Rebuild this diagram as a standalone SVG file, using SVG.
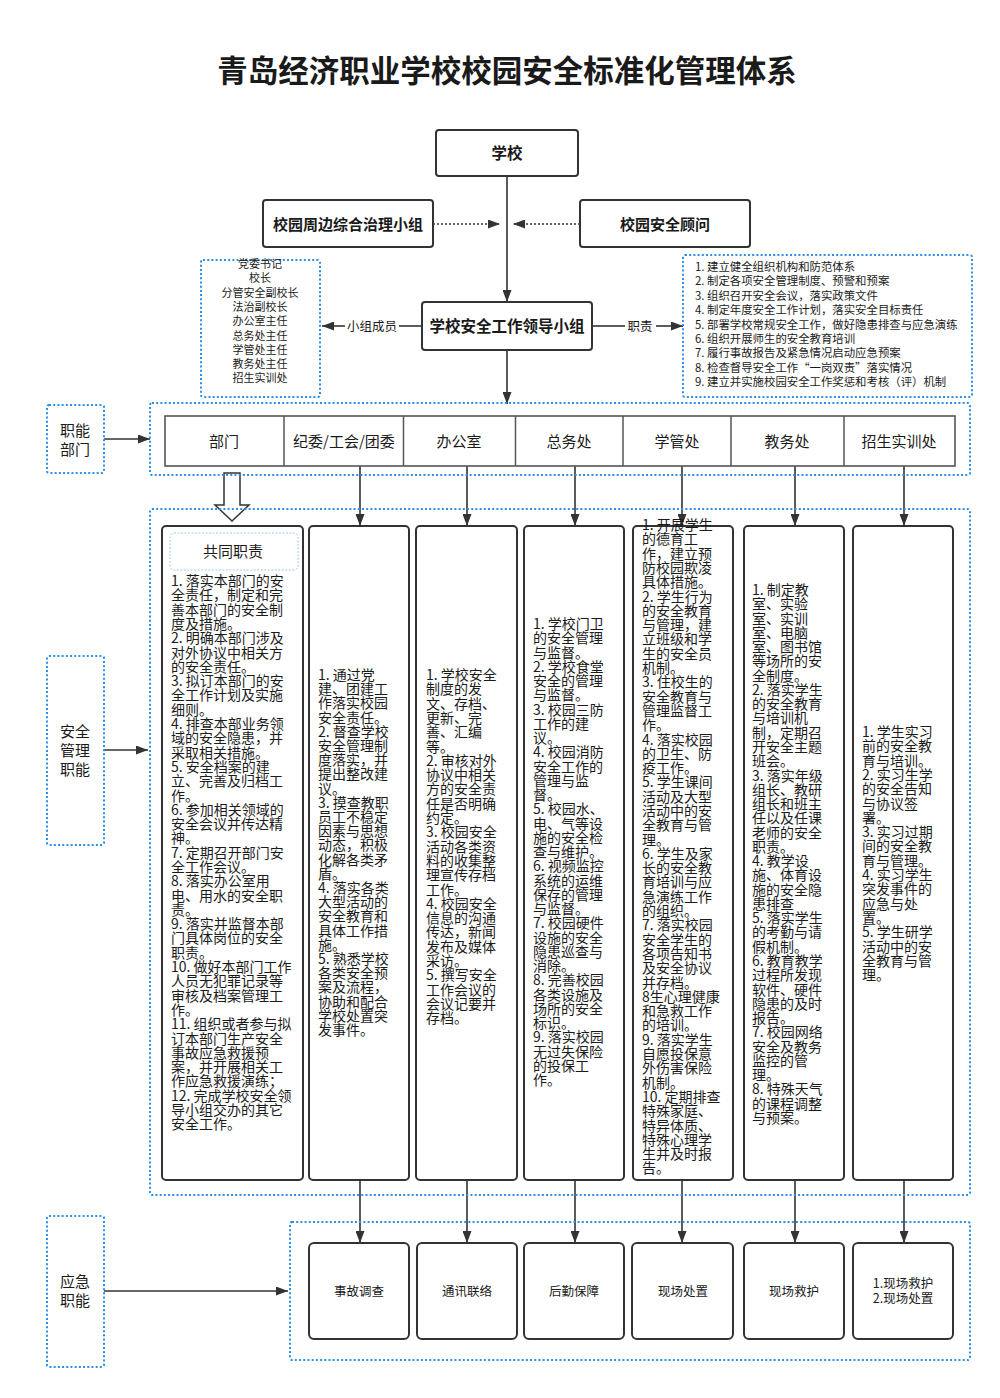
<svg xmlns="http://www.w3.org/2000/svg" width="1000" height="1398" viewBox="0 0 1000 1398">
<defs>
<style>
text{font-family:"Noto Sans CJK SC","Liberation Sans",sans-serif;fill:#1a1a1a}
.title{font-size:30.5px;font-weight:bold;text-anchor:middle}
.bold{font-size:15.5px;font-weight:bold;text-anchor:middle}
.box{fill:#fff;stroke:#333;stroke-width:2}
.dot{fill:none;stroke:#2f8fe6;stroke-width:2;stroke-dasharray:2 2.2}
.cell{font-size:15px;text-anchor:middle}
.small{font-size:11px}
.duty{font-size:11.4px}
.col{font-size:14px}
.lbl{font-size:15px;text-anchor:middle}
.em{font-size:12.5px;text-anchor:middle}
.link{fill:none;stroke:#333;stroke-width:1.6}
.dlink{fill:none;stroke:#333;stroke-width:1.6;stroke-dasharray:2 2}
</style>
<marker id="ah" viewBox="0 0 12 9" refX="12" refY="4.5" markerWidth="12" markerHeight="9" markerUnits="userSpaceOnUse" orient="auto">
<path d="M0,0 L12,4.5 L0,9 z" fill="#333"/>
</marker>
</defs>
<rect width="1000" height="1398" fill="#fff"/>

<text class="title" x="507" y="82">青岛经济职业学校校园安全标准化管理体系</text>

<g id="connectors">
<path class="link" d="M507,176 V302" marker-end="url(#ah)"/>
<path class="dlink" d="M433,224 H500" marker-end="url(#ah)"/>
<path class="dlink" d="M580,224 H513" marker-end="url(#ah)"/>
<path class="link" d="M507,350 V404" marker-end="url(#ah)"/>
<path class="link" d="M421,326 H399"/>
<path class="link" d="M345,326 H322" marker-end="url(#ah)"/>
<text x="372" y="331" style="font-size:12.5px;text-anchor:middle">小组成员</text>
<path class="link" d="M593,326 H625"/>
<path class="link" d="M656,326 H683" marker-end="url(#ah)"/>
<text x="640" y="331" style="font-size:12.5px;text-anchor:middle">职责</text>
<path class="link" d="M104,439 H150" marker-end="url(#ah)"/>
<path class="link" d="M104,750 H148" marker-end="url(#ah)"/>
<path class="link" d="M104,1291 H288" marker-end="url(#ah)"/>
<path class="link" d="M360,466 V526" marker-end="url(#ah)"/>
<path class="link" d="M467,466 V526" marker-end="url(#ah)"/>
<path class="link" d="M575,466 V526" marker-end="url(#ah)"/>
<path class="link" d="M682,466 V526" marker-end="url(#ah)"/>
<path class="link" d="M795,466 V526" marker-end="url(#ah)"/>
<path class="link" d="M904,466 V526" marker-end="url(#ah)"/>
<path class="link" d="M360,1180 V1243" marker-end="url(#ah)"/>
<path class="link" d="M467,1180 V1243" marker-end="url(#ah)"/>
<path class="link" d="M575,1180 V1243" marker-end="url(#ah)"/>
<path class="link" d="M682,1180 V1243" marker-end="url(#ah)"/>
<path class="link" d="M795,1180 V1243" marker-end="url(#ah)"/>
<path class="link" d="M904,1180 V1243" marker-end="url(#ah)"/>
<polygon points="224,473 240,473 240,505 249,505 232,521 215,505 224,505" fill="#fff" stroke="#333" stroke-width="1.5"/>
</g>

<g id="school">
<rect class="box" x="436" y="130" width="142" height="46" rx="3"/>
<text class="bold" x="507" y="159">学校</text>
</g>
<g id="zhouBian">
<rect class="box" x="263" y="200" width="170" height="47" rx="3"/>
<text class="bold" x="348" y="230" style="font-size:15px">校园周边综合治理小组</text>
</g>
<g id="guWen">
<rect class="box" x="580" y="200" width="170" height="47" rx="3"/>
<text class="bold" x="665" y="230" style="font-size:15px">校园安全顾问</text>
</g>
<g id="leader">
<rect class="box" x="422" y="302" width="170" height="48" rx="3"/>
<text class="bold" x="507" y="332">学校安全工作领导小组</text>
</g>

<g id="members">
<rect class="dot" x="201" y="260" width="119" height="137" rx="2"/>
<text class="small" text-anchor="middle" x="260" y="268">党委书记<tspan x="260" dy="14.3">校长</tspan><tspan x="260" dy="14.3">分管安全副校长</tspan><tspan x="260" dy="14.3">法治副校长</tspan><tspan x="260" dy="14.3">办公室主任</tspan><tspan x="260" dy="14.3">总务处主任</tspan><tspan x="260" dy="14.3">学管处主任</tspan><tspan x="260" dy="14.3">教务处主任</tspan><tspan x="260" dy="14.3">招生实训处</tspan></text>
</g>

<g id="duties">
<rect class="dot" x="683" y="255" width="289" height="142" rx="2"/>
<text class="duty" x="695" y="271">1. 建立健全组织机构和防范体系<tspan x="695" dy="14.4">2. 制定各项安全管理制度、预警和预案</tspan><tspan x="695" dy="14.4">3. 组织召开安全会议，落实政策文件</tspan><tspan x="695" dy="14.4">4. 制定年度安全工作计划，落实安全目标责任</tspan><tspan x="695" dy="14.4">5. 部署学校常规安全工作，做好隐患排查与应急演练</tspan><tspan x="695" dy="14.4">6. 组织开展师生的安全教育培训</tspan><tspan x="695" dy="14.4">7. 履行事故报告及紧急情况启动应急预案</tspan><tspan x="695" dy="14.4">8. 检查督导安全工作“一岗双责”落实情况</tspan><tspan x="695" dy="14.4">9. 建立并实施校园安全工作奖惩和考核（评）机制</tspan></text>
</g>

<g id="label-bumen">
<rect class="dot" x="47" y="405" width="57" height="68" rx="2"/>
<text class="lbl" x="75" y="436">职能<tspan x="75" dy="18.5">部门</tspan></text>
</g>
<g id="label-anquan">
<rect class="dot" x="47" y="656" width="57" height="189" rx="2"/>
<text class="lbl" x="75" y="737">安全<tspan x="75" dy="19">管理</tspan><tspan x="75" dy="19">职能</tspan></text>
</g>
<g id="label-yingji">
<rect class="dot" x="47" y="1216" width="57" height="151" rx="2"/>
<text class="lbl" x="75" y="1287">应急<tspan x="75" dy="19">职能</tspan></text>
</g>

<g id="departments">
<rect class="dot" x="150" y="403" width="820" height="72" rx="2"/>
<rect x="165" y="416" width="790" height="50" fill="#fff" stroke="#555" stroke-width="1.6"/>
<path d="M284,416 V466 M403.5,416 V466 M515.5,416 V466 M623,416 V466 M731,416 V466 M844,416 V466" stroke="#555" stroke-width="1.5"/>
<text class="cell" x="224" y="446.5">部门</text>
<text class="cell" x="344" y="446.5">纪委/工会/团委</text>
<text class="cell" x="459" y="446.5">办公室</text>
<text class="cell" x="569" y="446.5">总务处</text>
<text class="cell" x="677" y="446.5">学管处</text>
<text class="cell" x="787" y="446.5">教务处</text>
<text class="cell" x="899" y="446.5">招生实训处</text>
</g>

<rect class="dot" x="150" y="509" width="820" height="686" rx="2"/>

<g id="col-common">
<rect class="box" x="162" y="526" width="141" height="654" rx="4"/>
<rect x="170" y="533" width="128" height="37" rx="4" fill="#fff" stroke="#9ccaf2" stroke-width="1" stroke-dasharray="2 1.5"/>
<text class="lbl" x="233" y="556.5">共同职责</text>
<text class="col" x="171" y="586">1. 落实本部门的安<tspan x="171" dy="14.3">全责任，制定和完</tspan><tspan x="171" dy="14.3">善本部门的安全制</tspan><tspan x="171" dy="14.3">度及措施。</tspan><tspan x="171" dy="14.3">2. 明确本部门涉及</tspan><tspan x="171" dy="14.3">对外协议中相关方</tspan><tspan x="171" dy="14.3">的安全责任。</tspan><tspan x="171" dy="14.3">3. 拟订本部门的安</tspan><tspan x="171" dy="14.3">全工作计划及实施</tspan><tspan x="171" dy="14.3">细则。</tspan><tspan x="171" dy="14.3">4. 排查本部业务领</tspan><tspan x="171" dy="14.3">域的安全隐患，并</tspan><tspan x="171" dy="14.3">采取相关措施。</tspan><tspan x="171" dy="14.3">5. 安全档案的建</tspan><tspan x="171" dy="14.3">立、完善及归档工</tspan><tspan x="171" dy="14.3">作。</tspan><tspan x="171" dy="14.3">6. 参加相关领域的</tspan><tspan x="171" dy="14.3">安全会议并传达精</tspan><tspan x="171" dy="14.3">神。</tspan><tspan x="171" dy="14.3">7. 定期召开部门安</tspan><tspan x="171" dy="14.3">全工作会议。</tspan><tspan x="171" dy="14.3">8. 落实办公室用</tspan><tspan x="171" dy="14.3">电、用水的安全职</tspan><tspan x="171" dy="14.3">责。</tspan><tspan x="171" dy="14.3">9. 落实并监督本部</tspan><tspan x="171" dy="14.3">门具体岗位的安全</tspan><tspan x="171" dy="14.3">职责。</tspan><tspan x="171" dy="14.3">10. 做好本部门工作</tspan><tspan x="171" dy="14.3">人员无犯罪记录等</tspan><tspan x="171" dy="14.3">审核及档案管理工</tspan><tspan x="171" dy="14.3">作。</tspan><tspan x="171" dy="14.3">11. 组织或者参与拟</tspan><tspan x="171" dy="14.3">订本部门生产安全</tspan><tspan x="171" dy="14.3">事故应急救援预</tspan><tspan x="171" dy="14.3">案，并开展相关工</tspan><tspan x="171" dy="14.3">作应急救援演练；</tspan><tspan x="171" dy="14.3">12. 完成学校安全领</tspan><tspan x="171" dy="14.3">导小组交办的其它</tspan><tspan x="171" dy="14.3">安全工作。</tspan></text>
</g>

<g id="col-jiwei">
<rect class="box" x="309" y="526" width="100" height="654" rx="4"/>
<text class="col" x="318" y="680">1. 通过党<tspan x="318" dy="14.2">建、团建工</tspan><tspan x="318" dy="14.2">作落实校园</tspan><tspan x="318" dy="14.2">安全责任。</tspan><tspan x="318" dy="14.2">2. 督查学校</tspan><tspan x="318" dy="14.2">安全管理制</tspan><tspan x="318" dy="14.2">度落实，并</tspan><tspan x="318" dy="14.2">提出整改建</tspan><tspan x="318" dy="14.2">议。</tspan><tspan x="318" dy="14.2">3. 摸查教职</tspan><tspan x="318" dy="14.2">员工不稳定</tspan><tspan x="318" dy="14.2">因素与思想</tspan><tspan x="318" dy="14.2">动态，积极</tspan><tspan x="318" dy="14.2">化解各类矛</tspan><tspan x="318" dy="14.2">盾。</tspan><tspan x="318" dy="14.2">4. 落实各类</tspan><tspan x="318" dy="14.2">大型活动的</tspan><tspan x="318" dy="14.2">安全教育和</tspan><tspan x="318" dy="14.2">具体工作措</tspan><tspan x="318" dy="14.2">施。</tspan><tspan x="318" dy="14.2">5. 熟悉学校</tspan><tspan x="318" dy="14.2">各类安全预</tspan><tspan x="318" dy="14.2">案及流程，</tspan><tspan x="318" dy="14.2">协助和配合</tspan><tspan x="318" dy="14.2">学校处置突</tspan><tspan x="318" dy="14.2">发事件。</tspan></text>
</g>

<g id="col-office">
<rect class="box" x="416" y="526" width="101" height="654" rx="4"/>
<text class="col" x="426" y="680">1. 学校安全<tspan x="426" dy="14.3">制度的发</tspan><tspan x="426" dy="14.3">文、存档、</tspan><tspan x="426" dy="14.3">更新、完</tspan><tspan x="426" dy="14.3">善、汇编</tspan><tspan x="426" dy="14.3">等。</tspan><tspan x="426" dy="14.3">2. 审核对外</tspan><tspan x="426" dy="14.3">协议中相关</tspan><tspan x="426" dy="14.3">方的安全责</tspan><tspan x="426" dy="14.3">任是否明确</tspan><tspan x="426" dy="14.3">约定。</tspan><tspan x="426" dy="14.3">3. 校园安全</tspan><tspan x="426" dy="14.3">活动各类资</tspan><tspan x="426" dy="14.3">料的收集整</tspan><tspan x="426" dy="14.3">理宣传存档</tspan><tspan x="426" dy="14.3">工作。</tspan><tspan x="426" dy="14.3">4. 校园安全</tspan><tspan x="426" dy="14.3">信息的沟通</tspan><tspan x="426" dy="14.3">传达，新闻</tspan><tspan x="426" dy="14.3">发布及媒体</tspan><tspan x="426" dy="14.3">采访。</tspan><tspan x="426" dy="14.3">5. 撰写安全</tspan><tspan x="426" dy="14.3">工作会议的</tspan><tspan x="426" dy="14.3">会议记要并</tspan><tspan x="426" dy="14.3">存档。</tspan></text>
</g>

<g id="col-zongwu">
<rect class="box" x="524" y="526" width="100" height="654" rx="4"/>
<text class="col" x="533" y="629">1. 学校门卫<tspan x="533" dy="14.25">的安全管理</tspan><tspan x="533" dy="14.25">与监督。</tspan><tspan x="533" dy="14.25">2. 学校食堂</tspan><tspan x="533" dy="14.25">安全的管理</tspan><tspan x="533" dy="14.25">与监督。</tspan><tspan x="533" dy="14.25">3. 校园三防</tspan><tspan x="533" dy="14.25">工作的建</tspan><tspan x="533" dy="14.25">议。</tspan><tspan x="533" dy="14.25">4. 校园消防</tspan><tspan x="533" dy="14.25">安全工作的</tspan><tspan x="533" dy="14.25">管理与监</tspan><tspan x="533" dy="14.25">督。</tspan><tspan x="533" dy="14.25">5. 校园水、</tspan><tspan x="533" dy="14.25">电、气等设</tspan><tspan x="533" dy="14.25">施的安全检</tspan><tspan x="533" dy="14.25">查与维护。</tspan><tspan x="533" dy="14.25">6. 视频监控</tspan><tspan x="533" dy="14.25">系统的运维</tspan><tspan x="533" dy="14.25">保存的管理</tspan><tspan x="533" dy="14.25">与监督。</tspan><tspan x="533" dy="14.25">7. 校园硬件</tspan><tspan x="533" dy="14.25">设施的安全</tspan><tspan x="533" dy="14.25">隐患巡查与</tspan><tspan x="533" dy="14.25">消除。</tspan><tspan x="533" dy="14.25">8. 完善校园</tspan><tspan x="533" dy="14.25">各类设施及</tspan><tspan x="533" dy="14.25">场所的安全</tspan><tspan x="533" dy="14.25">标识。</tspan><tspan x="533" dy="14.25">9. 落实校园</tspan><tspan x="533" dy="14.25">无过失保险</tspan><tspan x="533" dy="14.25">的投保工</tspan><tspan x="533" dy="14.25">作。</tspan></text>
</g>

<g id="col-xueguan">
<rect class="box" x="633" y="526" width="100" height="654" rx="4"/>
<text class="col" x="642" y="530">1. 开展学生<tspan x="642" dy="14.3">的德育工</tspan><tspan x="642" dy="14.3">作，建立预</tspan><tspan x="642" dy="14.3">防校园欺凌</tspan><tspan x="642" dy="14.3">具体措施。</tspan><tspan x="642" dy="14.3">2. 学生行为</tspan><tspan x="642" dy="14.3">的安全教育</tspan><tspan x="642" dy="14.3">与管理，建</tspan><tspan x="642" dy="14.3">立班级和学</tspan><tspan x="642" dy="14.3">生的安全员</tspan><tspan x="642" dy="14.3">机制。</tspan><tspan x="642" dy="14.3">3. 住校生的</tspan><tspan x="642" dy="14.3">安全教育与</tspan><tspan x="642" dy="14.3">管理监督工</tspan><tspan x="642" dy="14.3">作。</tspan><tspan x="642" dy="14.3">4. 落实校园</tspan><tspan x="642" dy="14.3">的卫生、防</tspan><tspan x="642" dy="14.3">疫工作。</tspan><tspan x="642" dy="14.3">5. 学生课间</tspan><tspan x="642" dy="14.3">活动及大型</tspan><tspan x="642" dy="14.3">活动中的安</tspan><tspan x="642" dy="14.3">全教育与管</tspan><tspan x="642" dy="14.3">理。</tspan><tspan x="642" dy="14.3">6. 学生及家</tspan><tspan x="642" dy="14.3">长的安全教</tspan><tspan x="642" dy="14.3">育培训与应</tspan><tspan x="642" dy="14.3">急演练工作</tspan><tspan x="642" dy="14.3">的组织。</tspan><tspan x="642" dy="14.3">7. 落实校园</tspan><tspan x="642" dy="14.3">安全学生的</tspan><tspan x="642" dy="14.3">各项告知书</tspan><tspan x="642" dy="14.3">及安全协议</tspan><tspan x="642" dy="14.3">并存档。</tspan><tspan x="642" dy="14.3">8生心理健康</tspan><tspan x="642" dy="14.3">和急救工作</tspan><tspan x="642" dy="14.3">的培训。</tspan><tspan x="642" dy="14.3">9. 落实学生</tspan><tspan x="642" dy="14.3">自愿投保意</tspan><tspan x="642" dy="14.3">外伤害保险</tspan><tspan x="642" dy="14.3">机制。</tspan><tspan x="642" dy="14.3">10. 定期排查</tspan><tspan x="642" dy="14.3">特殊家庭、</tspan><tspan x="642" dy="14.3">特异体质、</tspan><tspan x="642" dy="14.3">特殊心理学</tspan><tspan x="642" dy="14.3">生并及时报</tspan><tspan x="642" dy="14.3">告。</tspan></text>
</g>

<g id="col-jiaowu">
<rect class="box" x="744" y="526" width="100" height="654" rx="4"/>
<text class="col" x="752" y="595">1. 制定教<tspan x="752" dy="14.27">室、实验</tspan><tspan x="752" dy="14.27">室、实训</tspan><tspan x="752" dy="14.27">室、电脑</tspan><tspan x="752" dy="14.27">室、图书馆</tspan><tspan x="752" dy="14.27">等场所的安</tspan><tspan x="752" dy="14.27">全制度。</tspan><tspan x="752" dy="14.27">2. 落实学生</tspan><tspan x="752" dy="14.27">的安全教育</tspan><tspan x="752" dy="14.27">与培训机</tspan><tspan x="752" dy="14.27">制，定期召</tspan><tspan x="752" dy="14.27">开安全主题</tspan><tspan x="752" dy="14.27">班会。</tspan><tspan x="752" dy="14.27">3. 落实年级</tspan><tspan x="752" dy="14.27">组长、教研</tspan><tspan x="752" dy="14.27">组长和班主</tspan><tspan x="752" dy="14.27">任以及任课</tspan><tspan x="752" dy="14.27">老师的安全</tspan><tspan x="752" dy="14.27">职责。</tspan><tspan x="752" dy="14.27">4. 教学设</tspan><tspan x="752" dy="14.27">施、体育设</tspan><tspan x="752" dy="14.27">施的安全隐</tspan><tspan x="752" dy="14.27">患排查</tspan><tspan x="752" dy="14.27">5. 落实学生</tspan><tspan x="752" dy="14.27">的考勤与请</tspan><tspan x="752" dy="14.27">假机制。</tspan><tspan x="752" dy="14.27">6. 教育教学</tspan><tspan x="752" dy="14.27">过程所发现</tspan><tspan x="752" dy="14.27">软件、硬件</tspan><tspan x="752" dy="14.27">隐患的及时</tspan><tspan x="752" dy="14.27">报告。</tspan><tspan x="752" dy="14.27">7. 校园网络</tspan><tspan x="752" dy="14.27">安全及教务</tspan><tspan x="752" dy="14.27">监控的管</tspan><tspan x="752" dy="14.27">理。</tspan><tspan x="752" dy="14.27">8. 特殊天气</tspan><tspan x="752" dy="14.27">的课程调整</tspan><tspan x="752" dy="14.27">与预案。</tspan></text>
</g>

<g id="col-zhaosheng">
<rect class="box" x="853" y="526" width="100" height="654" rx="4"/>
<text class="col" x="862" y="737">1. 学生实习<tspan x="862" dy="14.3">前的安全教</tspan><tspan x="862" dy="14.3">育与培训。</tspan><tspan x="862" dy="14.3">2. 实习生学</tspan><tspan x="862" dy="14.3">的安全告知</tspan><tspan x="862" dy="14.3">与协议签</tspan><tspan x="862" dy="14.3">署。</tspan><tspan x="862" dy="14.3">3. 实习过期</tspan><tspan x="862" dy="14.3">间的安全教</tspan><tspan x="862" dy="14.3">育与管理。</tspan><tspan x="862" dy="14.3">4. 实习学生</tspan><tspan x="862" dy="14.3">突发事件的</tspan><tspan x="862" dy="14.3">应急与处</tspan><tspan x="862" dy="14.3">置。</tspan><tspan x="862" dy="14.3">5. 学生研学</tspan><tspan x="862" dy="14.3">活动中的安</tspan><tspan x="862" dy="14.3">全教育与管</tspan><tspan x="862" dy="14.3">理。</tspan></text>
</g>

<rect class="dot" x="290" y="1222" width="680" height="138" rx="2"/>

<g id="em-diaocha">
<rect class="box" x="309" y="1243" width="100" height="96" rx="5"/>
<text class="em" x="359" y="1296">事故调查</text>
</g>
<g id="em-tongxun">
<rect class="box" x="417" y="1243" width="100" height="96" rx="5"/>
<text class="em" x="467" y="1296">通讯联络</text>
</g>
<g id="em-houqin">
<rect class="box" x="524" y="1243" width="100" height="96" rx="5"/>
<text class="em" x="574" y="1296">后勤保障</text>
</g>
<g id="em-chuzhi">
<rect class="box" x="632" y="1243" width="101" height="96" rx="5"/>
<text class="em" x="683" y="1296">现场处置</text>
</g>
<g id="em-jiuhu">
<rect class="box" x="744" y="1243" width="100" height="96" rx="5"/>
<text class="em" x="794" y="1296">现场救护</text>
</g>
<g id="em-both">
<rect class="box" x="853" y="1243" width="100" height="96" rx="5"/>
<text class="em" x="903" y="1288">1.现场救护<tspan x="903" dy="15">2.现场处置</tspan></text>
</g>
</svg>
